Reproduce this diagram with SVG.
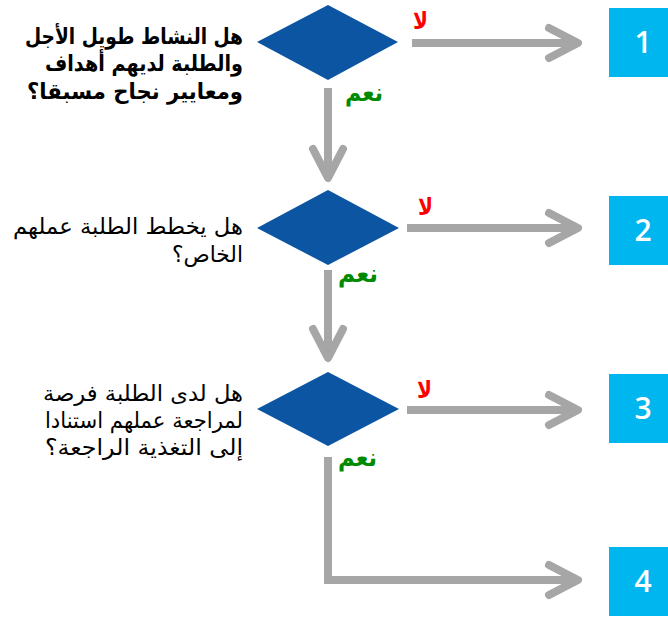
<svg xmlns="http://www.w3.org/2000/svg" width="668" height="618" viewBox="0 0 668 618">
<defs>
<marker id="chev" viewBox="-40 -22 50 44" markerWidth="50" markerHeight="44" refX="0" refY="0" orient="auto" markerUnits="userSpaceOnUse">
<path d="M-29,-15 L0,0 L-29,15" fill="none" stroke="#A6A6A6" stroke-width="8" stroke-linecap="round" stroke-linejoin="round"/>
</marker>
<style>
.dia{fill:#0B55A3}
.box{fill:#00B6EF}
.num{font-family:"Open Sans","DejaVu Sans",sans-serif;font-weight:600;font-size:30px;fill:#FFFFFF;text-anchor:middle}
.q{font-family:"DejaVu Sans",sans-serif;font-size:22px;fill:#000000}
.qb{font-weight:bold;font-size:22px}
.no{font-family:"DejaVu Sans",sans-serif;font-weight:bold;font-size:24px;fill:#FF0000}
.yes{font-family:"DejaVu Sans",sans-serif;font-weight:bold;font-size:25px;fill:#008A00}
.conn{fill:none;stroke:#A6A6A6;stroke-width:8;marker-end:url(#chev)}
</style>
</defs>
<rect width="668" height="618" fill="#FFFFFF"/>
<g id="connectors">
<path class="conn" d="M412,43 H578"/>
<path class="conn" d="M407,228 H578"/>
<path class="conn" d="M407,410 H578"/>
<path class="conn" d="M328,88 V178"/>
<path class="conn" d="M328,270 V358"/>
<path class="conn" d="M328,457 V580 H578"/>
</g>
<g id="decision1">
<polygon class="dia" points="257,42 328,5 398,42 328,80"/>
<text class="q qb" direction="rtl" x="243" y="44" textLength="218" lengthAdjust="spacingAndGlyphs">هل النشاط طويل الأجل</text>
<text class="q qb" direction="rtl" x="243" y="71" textLength="198" lengthAdjust="spacingAndGlyphs">والطلبة لديهم أهداف</text>
<text class="q qb" direction="rtl" x="243" y="99" textLength="216" lengthAdjust="spacingAndGlyphs">ومعايير نجاح مسبقا؟</text>
</g>
<g id="decision2">
<polygon class="dia" points="257,228 328,190 399,228 328,265"/>
<text class="q" direction="rtl" x="243" y="234" textLength="230" lengthAdjust="spacingAndGlyphs">هل يخطط الطلبة عملهم</text>
<text class="q" direction="rtl" x="243" y="262" textLength="71" lengthAdjust="spacingAndGlyphs">الخاص؟</text>
</g>
<g id="decision3">
<polygon class="dia" points="257,409 328,372 399,409 328,446"/>
<text class="q" direction="rtl" x="243" y="401" textLength="200" lengthAdjust="spacingAndGlyphs">هل لدى الطلبة فرصة</text>
<text class="q" direction="rtl" x="243" y="428" textLength="198" lengthAdjust="spacingAndGlyphs">لمراجعة عملهم استنادا</text>
<text class="q" direction="rtl" x="243" y="455" textLength="198" lengthAdjust="spacingAndGlyphs">إلى التغذية الراجعة؟</text>
</g>
<g id="labels">
<text class="no" x="413" y="29" textLength="15" lengthAdjust="spacingAndGlyphs">لا</text>
<text class="no" x="418" y="215" textLength="15" lengthAdjust="spacingAndGlyphs">لا</text>
<text class="no" x="417" y="398" textLength="15" lengthAdjust="spacingAndGlyphs">لا</text>
<text class="yes" direction="rtl" x="383" y="101" textLength="38" lengthAdjust="spacingAndGlyphs">نعم</text>
<text class="yes" direction="rtl" x="378" y="282" textLength="40" lengthAdjust="spacingAndGlyphs">نعم</text>
<text class="yes" direction="rtl" x="377" y="466" textLength="39" lengthAdjust="spacingAndGlyphs">نعم</text>
</g>
<g id="box1">
<rect class="box" x="609" y="8" width="70" height="69"/>
<text class="num" x="643" y="53">1</text>
</g>
<g id="box2">
<rect class="box" x="609" y="196" width="70" height="69"/>
<text class="num" x="643" y="241">2</text>
</g>
<g id="box3">
<rect class="box" x="609" y="374" width="70" height="69"/>
<text class="num" x="643" y="419">3</text>
</g>
<g id="box4">
<rect class="box" x="609" y="547" width="70" height="69"/>
<text class="num" x="643" y="592">4</text>
</g>
</svg>
